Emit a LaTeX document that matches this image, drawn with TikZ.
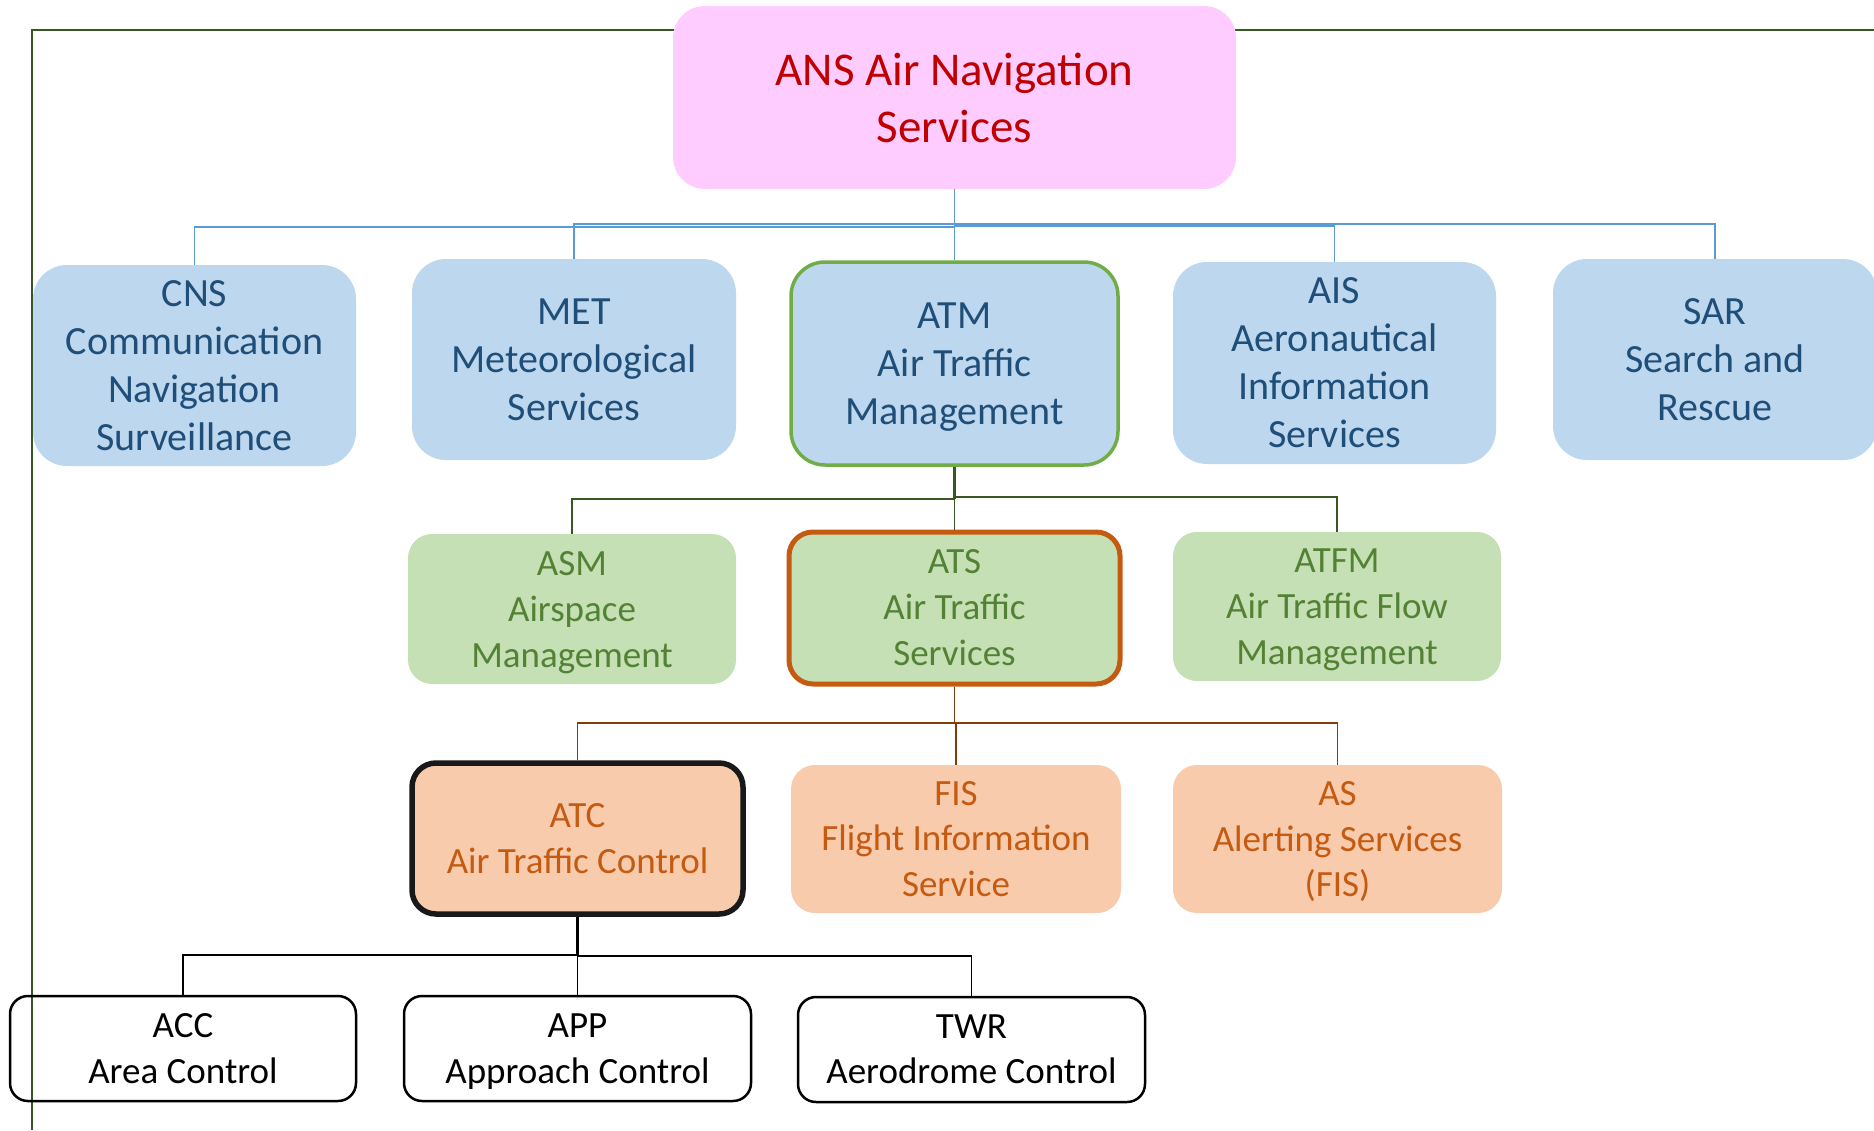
\documentclass[tikz,border=0pt]{standalone}
\usepackage{fontspec}
\setmainfont{Carlito}
\definecolor{pinkfill}{HTML}{FFCCFF}
\definecolor{ansred}{HTML}{C00000}
\definecolor{bluefill}{HTML}{BDD7EE}
\definecolor{bluetext}{HTML}{1F4E79}
\definecolor{blueline}{HTML}{5B9BD5}
\definecolor{greenfill}{HTML}{C5E0B4}
\definecolor{greentext}{HTML}{548235}
\definecolor{greenborder}{HTML}{70AD47}
\definecolor{darkgreen}{HTML}{385723}
\definecolor{orangefill}{HTML}{F8CBAD}
\definecolor{orangetext}{HTML}{C55A11}
\definecolor{brownline}{HTML}{843C0C}
\tikzset{
  basebox/.style={inner sep=0pt, align=center, anchor=center},
  rootbox/.style={basebox, fill=pinkfill, rounded corners=32pt, text=ansred, font=\fontsize{47}{57}\selectfont},
  bluebox/.style={basebox, fill=bluefill, rounded corners=34pt, text=bluetext, font=\fontsize{40}{48}\selectfont},
  greenbox/.style={basebox, fill=greenfill, rounded corners=24pt, text=greentext, font=\fontsize{37}{46}\selectfont},
  orangebox/.style={basebox, fill=orangefill, rounded corners=24pt, text=orangetext, font=\fontsize{37}{45.5}\selectfont},
  whitebox/.style={basebox, draw=black, line width=2.5pt, rounded corners=18pt, text=black, font=\fontsize{37}{45.5}\selectfont},
  bluecon/.style={draw=blueline, line width=1.5pt},
  greencon/.style={draw=darkgreen, line width=1.5pt},
  browncon/.style={draw=brownline, line width=1.5pt},
  blackcon/.style={draw=black, line width=1.5pt},
  framestyle/.style={draw=darkgreen, line width=2pt}
}
\begin{document}
\begin{tikzpicture}[x=1pt,y=-1pt]
\useasboundingbox (0,0) rectangle (1874,1130);
% frame
\coordinate (fbl) at (32,1130);
\coordinate (ftl) at (32,30);
\coordinate (ftr) at (1874,30);
\draw[framestyle] (fbl) -- (ftl) -- (ftr);

% row 0
\node[rootbox, minimum width=563, minimum height=183] (ans) at (954.5,97.5) {ANS Air Navigation\\Services};
% row 1
\node[bluebox, minimum width=323, minimum height=201] (cns) at (194.5,365.5) {CNS\\Communication\\Navigation\\Surveillance};
\node[bluebox, minimum width=324, minimum height=201] (met) at (574,359.5) {MET\\Meteorological\\Services};
\node[bluebox, draw=greenborder, line width=3.5pt, minimum width=327, minimum height=203] (atm) at (954.5,363.5) {ATM\\Air Traffic\\\smash{Management}};
\node[bluebox, minimum width=323, minimum height=202] (ais) at (1334.5,363) {AIS\\Aeronautical\\Information\\Services};
\node[bluebox, minimum width=324, minimum height=201] (sar) at (1715,359.5) {SAR\\Search and\\Rescue};
% row 2
\node[greenbox, minimum width=328, minimum height=150] (asm) at (572,609) {ASM\\Airspace\\\smash{Management}};
\node[greenbox, draw=orangetext, line width=5pt, minimum width=331, minimum height=152] (ats) at (954.5,608) {ATS\\Air Traffic\\Services};
\node[greenbox, minimum width=328, minimum height=149] (atfm) at (1337,606.5) {ATFM\\Air Traffic Flow\\\smash{Management}};
% row 3
\node[orangebox, draw=black!90, line width=5.5pt, minimum width=331, minimum height=151] (atc) at (577.5,838.5) {ATC\\Air Traffic Control};
\node[orangebox, minimum width=330, minimum height=148] (fis) at (956,839) {FIS\\Flight Information\\Service};
\node[orangebox, minimum width=329, minimum height=148] (as) at (1337.5,839) {AS\\Alerting Services\\\smash{(FIS)}};
% row 4
\node[whitebox, minimum width=346, minimum height=105] (acc) at (183,1048.5) {ACC\\Area Control};
\node[whitebox, minimum width=347, minimum height=105] (app) at (577.5,1048.5) {APP\\\smash{Approach Control}};
\node[whitebox, minimum width=347, minimum height=105] (twr) at (971.5,1049.5) {TWR\\Aerodrome Control};

% connectors root -> row 1
\draw[bluecon] (ans.south) -- (ans.south |- 0,227) -| (cns.north);
\draw[bluecon] (ans.south) -- (ans.south |- 0,224) -| (met.north);
\draw[bluecon] (ans.south) -- (atm.north);
\draw[bluecon] (ans.south) -- (ans.south |- 0,226) -| (ais.north);
\draw[bluecon] (ans.south) -- (ans.south |- 0,224) -| (sar.north);
% ATM -> row 2
\draw[greencon, line width=2.5pt] (atm.south) -- (atm.south |- 0,499);
\draw[greencon] (atm.south) -- (atm.south |- 0,499) -| (asm.north);
\draw[greencon] (atm.south) -- (ats.north);
\draw[greencon] (atm.south) -- (atm.south |- 0,497) -| (atfm.north);
% ATS -> row 3
\draw[browncon] (ats.south) -- (ats.south |- 0,723) -| (atc.north);
\draw[browncon] (ats.south) -- (ats.south |- 0,723) -| (fis.north);
\draw[browncon] (ats.south) -- (ats.south |- 0,723) -| (as.north);
% ATC -> row 4
\draw[blackcon, line width=3pt] (atc.south) -- (atc.south |- 0,955);
\draw[blackcon] (atc.south) -- (atc.south |- 0,955) -| (acc.north);
\draw[blackcon] (atc.south) -- (atc.south |- 0,955) -| (app.north);
\draw[blackcon] (atc.south) -- (atc.south |- 0,956) -| (twr.north);
\end{tikzpicture}
\end{document}
